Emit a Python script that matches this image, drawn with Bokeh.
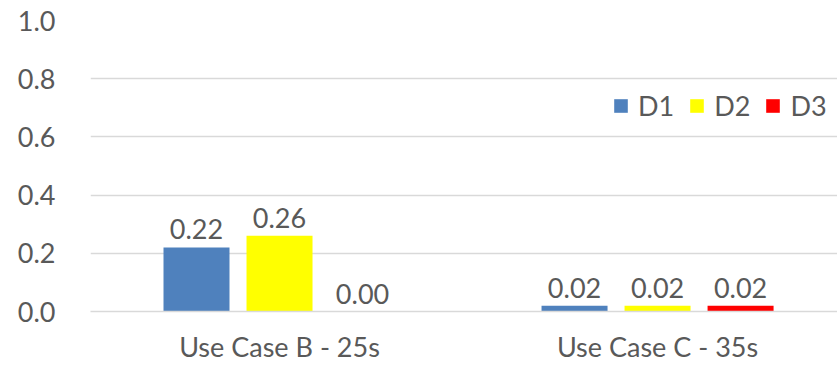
from bokeh.plotting import figure
from bokeh.models import (ColumnDataSource, Legend, LegendItem, FixedTicker, Range1d,
                          CustomJSTickFormatter)
from bokeh.transform import dodge
from bokeh.embed import file_html
from bokeh.resources import INLINE
from bokeh.core.properties import value

# Data
categories = ["Use Case B - 25s", "Use Case C - 35s"]
series = ["D1", "D2", "D3"]
d1 = [0.22, 0.02]
d2 = [0.26, 0.02]
d3 = [0.00, 0.02]
colors = ["#4f81bd", "#ffff00", "#ff0000"]
y_ticks = [0.0, 0.2, 0.4, 0.6, 0.8, 1.0]

FONT = "Lato"
TEXT_COLOR = "#595959"
GRID_COLOR = "#d9d9d9"

centers = [i + 0.5 for i in range(len(categories))]
source = ColumnDataSource(dict(x=centers, D1=d1, D2=d2, D3=d3,
                               L1=[f"{v:.2f}" for v in d1],
                               L2=[f"{v:.2f}" for v in d2],
                               L3=[f"{v:.2f}" for v in d3]))

p = figure(width=837, height=365, output_backend="svg", toolbar_location=None,
           x_range=Range1d(0, 1.976), y_range=Range1d(0, 1.0),
           min_border_left=90, min_border_right=0, min_border_top=20,
           min_border_bottom=54)
p.outline_line_color = None
p.background_fill_color = "white"
p.border_fill_color = "white"

bar_w = 0.1746
step = 0.2196
offsets = [-step, 0.0, step]
renderers = []
for name, col, off, lab in zip(series, colors, offsets, ["L1", "L2", "L3"]):
    r = p.vbar(x=dodge("x", off, range=p.x_range), top=name, width=bar_w,
               source=source, fill_color=col, line_color=None)
    renderers.append(r)
    p.text(x=dodge("x", off, range=p.x_range), y=name, text=lab, source=source,
           text_align="center", text_baseline="bottom", y_offset=-8,
           text_font=value(FONT), text_font_size="27px", text_color=TEXT_COLOR)

# Axes
p.yaxis.ticker = FixedTicker(ticks=y_ticks)
p.yaxis.formatter = CustomJSTickFormatter(code="return tick.toFixed(1);")
p.yaxis.axis_line_color = None
p.yaxis.major_tick_line_color = None
p.yaxis.minor_tick_line_color = None
p.yaxis.major_label_standoff = 29
p.yaxis.major_label_text_font = FONT
p.yaxis.major_label_text_font_size = "27px"
p.yaxis.major_label_text_color = TEXT_COLOR

p.xaxis.ticker = FixedTicker(ticks=centers)
p.xaxis.major_label_overrides = {c: n for c, n in zip(centers, categories)}
p.xaxis.axis_line_color = GRID_COLOR
p.xaxis.axis_line_width = 1.5
p.xaxis.major_tick_line_color = None
p.xaxis.minor_tick_line_color = None
p.xaxis.major_tick_out = 0
p.xaxis.major_tick_in = 0
p.xaxis.axis_label_standoff = 0
p.xaxis.major_label_standoff = 18
p.xaxis.major_label_text_font = FONT
p.xaxis.major_label_text_font_size = "27px"
p.xaxis.major_label_text_color = TEXT_COLOR

p.xgrid.grid_line_color = None
p.ygrid.grid_line_color = GRID_COLOR
p.ygrid.grid_line_width = 1.5

legend = Legend(items=[LegendItem(label=s, renderers=[r]) for s, r in zip(series, renderers)],
                orientation="horizontal", location=(522, 189),
                glyph_width=17, glyph_height=17, label_standoff=9, spacing=14,
                padding=0, margin=0, border_line_color=None,
                background_fill_alpha=0,
                label_text_font=FONT, label_text_font_size="27px",
                label_text_color=TEXT_COLOR)
p.add_layout(legend, "center")

open("out.html", "w").write(file_html(p, INLINE))
